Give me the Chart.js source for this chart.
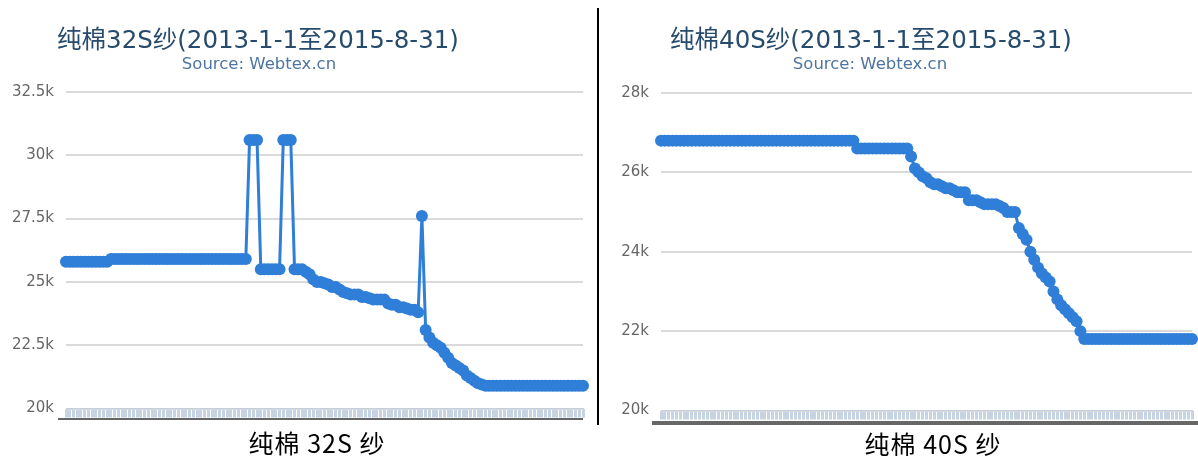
<!DOCTYPE html>
<html><head><meta charset="utf-8">
<script src="https://cdn.jsdelivr.net/npm/chart.js@4/dist/chart.umd.min.js"></script>
<style>
html,body{margin:0;padding:0;background:#fff}
body{width:1198px;height:456px;position:relative;overflow:hidden;font-family:"DejaVu Sans","Noto Sans CJK SC",sans-serif}
.t{position:absolute;white-space:nowrap;transform:translate(-50%,-50%);line-height:1}
.title{color:#274b6d;font-size:24.5px}
.src{color:#4d759e;font-size:16.5px}
.cap{color:#000;font-family:"Noto Sans CJK SC",sans-serif;font-size:25px;letter-spacing:1px}
canvas{position:absolute}
.bar{position:absolute;background:#666}
</style></head>
<body>
<canvas id="c1" width="598" height="425" style="left:0;top:0"></canvas>
<canvas id="c2" width="598" height="428" style="left:600px;top:0"></canvas>
<div class="t title" style="left:258px;top:40px">纯棉32S纱(2013-1-1至2015-8-31)</div>
<div class="t src" style="left:259px;top:64px">Source: Webtex.cn</div>
<div class="t title" style="left:871px;top:40px">纯棉40S纱(2013-1-1至2015-8-31)</div>
<div class="t src" style="left:870px;top:64px">Source: Webtex.cn</div>
<div class="bar" style="left:58px;top:418px;width:525px;height:2px"></div>
<div class="bar" style="left:652px;top:421px;width:546px;height:4px"></div>
<div class="bar" style="left:597px;top:8px;width:2px;height:417px;background:#000"></div>
<div class="t cap" style="left:317px;top:442px">纯棉 32S 纱</div>
<div class="t cap" style="left:933px;top:443px">纯棉 40S 纱</div>
<script>
// weekly observations, 2013-01-01 .. 2015-08-31
const startDate = "2013-01-01";
const pointCount = 139;

// 纯棉32S纱 price (yuan/ton)
const yarn32S = [
  25800,25800,25800,25800,25800,25800,25800,25800,25800,25800,25800,25800,
  25900,25900,25900,25900,25900,25900,25900,25900,25900,25900,25900,25900,25900,
  25900,25900,25900,25900,25900,25900,25900,25900,25900,25900,25900,25900,25900,
  25900,25900,25900,25900,25900,25900,25900,25900,25900,25900,25900,
  30600,30600,30600,
  25500,25500,25500,25500,25500,25500,
  30600,30600,30600,
  25500,25500,25500,
  25400,25300,25100,25000,25000,24950,24900,24800,24800,24700,24600,24550,
  24500,24500,24500,24400,24400,24350,24300,24300,24300,24300,24150,24100,
  24100,24000,24000,23950,23900,23900,23800,27600,23100,22800,22600,22500,
  22400,22200,22000,21800,21700,21600,21500,21300,21200,21100,21000,20950,
  20900,20900,20900,20900,20900,20900,20900,20900,20900,20900,20900,20900,20900,
  20900,20900,20900,20900,20900,20900,20900,20900,20900,20900,20900,20900,20900,20900
];

// 纯棉40S纱 price (yuan/ton)
const yarn40S = [
  26800,26800,26800,26800,26800,26800,26800,26800,26800,26800,26800,26800,26800,
  26800,26800,26800,26800,26800,26800,26800,26800,26800,26800,26800,26800,26800,
  26800,26800,26800,26800,26800,26800,26800,26800,26800,26800,26800,26800,26800,
  26800,26800,26800,26800,26800,26800,26800,26800,26800,26800,26800,26800,
  26600,26600,26600,26600,26600,26600,26600,26600,26600,26600,26600,26600,26600,26600,
  26400,26100,26000,25900,25850,25750,25700,25700,25650,25600,25600,25550,
  25500,25500,25500,25300,25300,25300,25250,25200,25200,25200,25200,25150,
  25100,25000,25000,25000,24600,24450,24300,24000,23800,23600,23450,23350,
  23250,23000,22800,22650,22550,22450,22350,22250,22000,21800,
  21800,21800,21800,21800,21800,21800,21800,21800,21800,21800,21800,21800,21800,21800,
  21800,21800,21800,21800,21800,21800,21800,21800,21800,21800,21800,21800,21800,21800
];

const ticks32S = [20000, 22500, 25000, 27500, 30000, 32500];
const ticks40S = [20000, 22000, 24000, 26000, 28000];

const categories = [];
{
  const d0 = new Date(startDate + "T00:00:00Z");
  for (let i = 0; i < pointCount; i++) {
    const d = new Date(d0.getTime() + i * 7 * 86400000);
    categories.push(d.toISOString().slice(0, 10));
  }
}

const BLUE = '#2f7ed8';

function build(canvasId, values, tickVals, pad, yWidth) {
  return new Chart(document.getElementById(canvasId), {
    type: 'line',
    data: {
      labels: categories,
      datasets: [{
        data: values,
        borderColor: BLUE,
        backgroundColor: BLUE,
        borderWidth: 3,
        pointRadius: 6,
        pointBorderWidth: 0,
        pointBackgroundColor: BLUE,
        tension: 0,
        fill: false
      }]
    },
    options: {
      responsive: false,
      animation: false,
      events: [],
      layout: { padding: pad },
      plugins: { legend: { display: false }, tooltip: { enabled: false }, title: { display: false } },
      scales: {
        x: {
          type: 'category',
          offset: false,
          grid: { display: true, drawOnChartArea: false, drawTicks: true, tickLength: 9, tickColor: '#c5d3e3', tickWidth: 3 },
          border: { display: true, color: '#c0d0e0', width: 1 },
          ticks: { display: false, autoSkip: false }
        },
        y: {
          min: tickVals[0],
          max: tickVals[tickVals.length - 1],
          afterBuildTicks: (s) => { s.ticks = tickVals.map(v => ({ value: v })); },
          afterFit: (s) => { s.width = yWidth; },
          grid: { color: '#dadada', lineWidth: 2, drawTicks: true, tickLength: 12, tickColor: 'rgba(0,0,0,0)' },
          border: { display: false },
          ticks: {
            padding: 0,
            color: '#666',
            font: { family: 'DejaVu Sans', size: 15 },
            callback: (v) => (v / 1000) + 'k'
          }
        }
      }
    }
  });
}

build('c1', yarn32S, ticks32S, { left: 0, top: 92, right: 15, bottom: 7.5 }, 66);
build('c2', yarn40S, ticks40S, { left: 0, top: 93, right: 3, bottom: 8.5 }, 61);
</script>
</body></html>
